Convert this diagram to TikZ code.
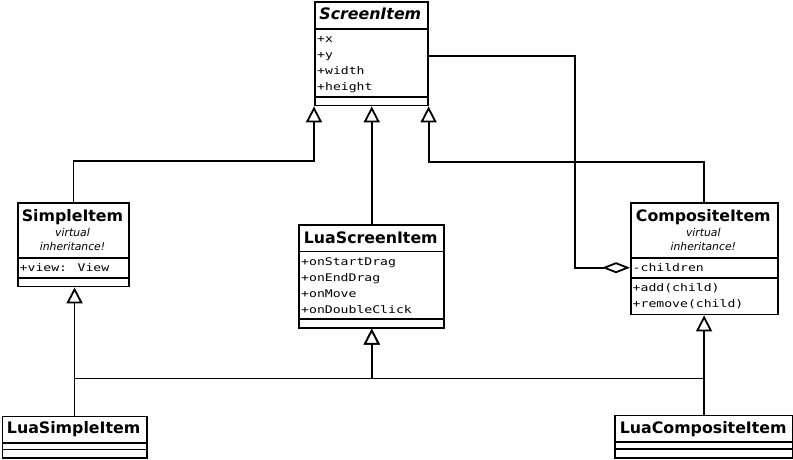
\documentclass[tikz,border=0pt]{standalone}
\usepackage{fontspec}
\setmainfont{DejaVu Sans}
\newfontfamily\monof[FakeStretch=1.25]{DejaVu Sans Mono}
\usetikzlibrary{arrows.meta}
\begin{document}
\begin{tikzpicture}[x=1pt,y=-1pt,
  cls/.style={draw, line width=1.9pt, fill=white, inner sep=0pt, anchor=north west},
  sepline/.style={line width=1.9pt},
  title/.style={inner sep=0pt, anchor=base, font=\fontsize{15.8}{18}\selectfont\bfseries},
  ititle/.style={title, font=\fontsize{15.8}{18}\selectfont\bfseries\itshape},
  note/.style={inner sep=0pt, anchor=base, font=\fontsize{10.8}{12}\selectfont\itshape},
  member/.style={inner sep=0pt, anchor=base west, font=\fontsize{10.5}{12}\monof},
  inh/.style={line width=1.8pt, -{Triangle[fill=white, width=16pt, length=16pt, line width=1.8pt]}},
  agg/.style={line width=1.8pt, -{Diamond[fill=white, width=11pt, length=28pt, line width=1.8pt]}}
]
\useasboundingbox (0,0) rectangle (793,459);

% ScreenItem
\node[cls, minimum width=112.7pt, minimum height=103.5pt] (screen) at (314,1) {};
\draw[sepline] ([yshift=-28pt]screen.north west) -- ([yshift=-28pt]screen.north east);
\draw[sepline] ([yshift=-96.3pt]screen.north west) -- ([yshift=-96.3pt]screen.north east);
\node[ititle] (screenT) at (370.3,19.5) {ScreenItem};
\node[member] (sx) at (317,42.5) {+x};
\node[member] (sy) at (317,58.5) {+y};
\node[member] (sw) at (317,74.5) {+width};
\node[member] (sh) at (317,90.5) {+height};

% SimpleItem
\node[cls, minimum width=111.6pt, minimum height=83.8pt] (simple) at (16.7,201.7) {};
\draw[sepline] ([yshift=-56pt]simple.north west) -- ([yshift=-56pt]simple.north east);
\draw[sepline] ([yshift=-76pt]simple.north west) -- ([yshift=-76pt]simple.north east);
\node[title] (simpleT) at (72.5,221) {SimpleItem};
\node[note] (simpleN1) at (72.5,236.5) {virtual};
\node[note] (simpleN2) at (72.5,250) {inheritance!};
\node[member] (sview) at (19.5,271.5) {+view: View};

% LuaScreenItem
\node[cls, minimum width=145pt, minimum height=102.7pt] (luascreen) at (298.3,224) {};
\draw[sepline] ([yshift=-27.5pt]luascreen.north west) -- ([yshift=-27.5pt]luascreen.north east);
\draw[sepline] ([yshift=-95pt]luascreen.north west) -- ([yshift=-95pt]luascreen.north east);
\node[title] (luascreenT) at (370.8,243) {LuaScreenItem};
\node[member] (m1) at (301,265) {+onStartDrag};
\node[member] (m2) at (301,281) {+onEndDrag};
\node[member] (m3) at (301,297) {+onMove};
\node[member] (m4) at (301,313) {+onDoubleClick};

% CompositeItem
\node[cls, minimum width=146.7pt, minimum height=111.8pt] (comp) at (630,201.7) {};
\draw[sepline] ([yshift=-56pt]comp.north west) -- ([yshift=-56pt]comp.north east);
\draw[sepline] ([yshift=-76pt]comp.north west) -- ([yshift=-76pt]comp.north east);
\node[title] (compT) at (703.3,221) {CompositeItem};
\node[note] (compN1) at (703.3,236.5) {virtual};
\node[note] (compN2) at (703.3,250) {inheritance!};
\coordinate (children) at (630,267.7);
\node[member] (cchildren) at (632.5,271.5) {-children};
\node[member] (cadd) at (632.5,291.5) {+add(child)};
\node[member] (crem) at (632.5,307.5) {+remove(child)};

% LuaSimpleItem
\node[cls, minimum width=144.2pt, minimum height=41.8pt] (luasimple) at (1.5,415.5) {};
\draw[sepline] ([yshift=-27.5pt]luasimple.north west) -- ([yshift=-27.5pt]luasimple.north east);
\draw[sepline] ([yshift=-34pt]luasimple.north west) -- ([yshift=-34pt]luasimple.north east);
\node[title] (luasimpleT) at (73.6,433) {LuaSimpleItem};

% LuaCompositeItem
\node[cls, minimum width=178.3pt, minimum height=42.5pt] (luacomp) at (614,414.5) {};
\draw[sepline] ([yshift=-27.5pt]luacomp.north west) -- ([yshift=-27.5pt]luacomp.north east);
\draw[sepline] ([yshift=-34.2pt]luacomp.north west) -- ([yshift=-34.2pt]luacomp.north east);
\node[title] (luacompT) at (703.2,433) {LuaCompositeItem};

% connectors
\draw[inh] (simple.north) -- ++(0,-41) -| (screen.south west);
\draw[inh] (comp.north) -- ++(0,-40) -| (screen.south east);
\draw[inh] (luascreen.north) -- (luascreen.north |- screen.south);
\draw[agg] ([yshift=-2pt]screen.east) -- ++(146,0) |- (children);
\draw[inh] (luasimple.north) -- (luasimple.north |- simple.south);
\draw[inh] (luacomp.north) -- (luacomp.north |- comp.south);
\draw[inh] (luasimple.north) -- ++(0,-37) -| (luascreen.south);
\draw[inh] (luacomp.north) -- ++(0,-36) -| (luascreen.south);
\end{tikzpicture}
\end{document}
